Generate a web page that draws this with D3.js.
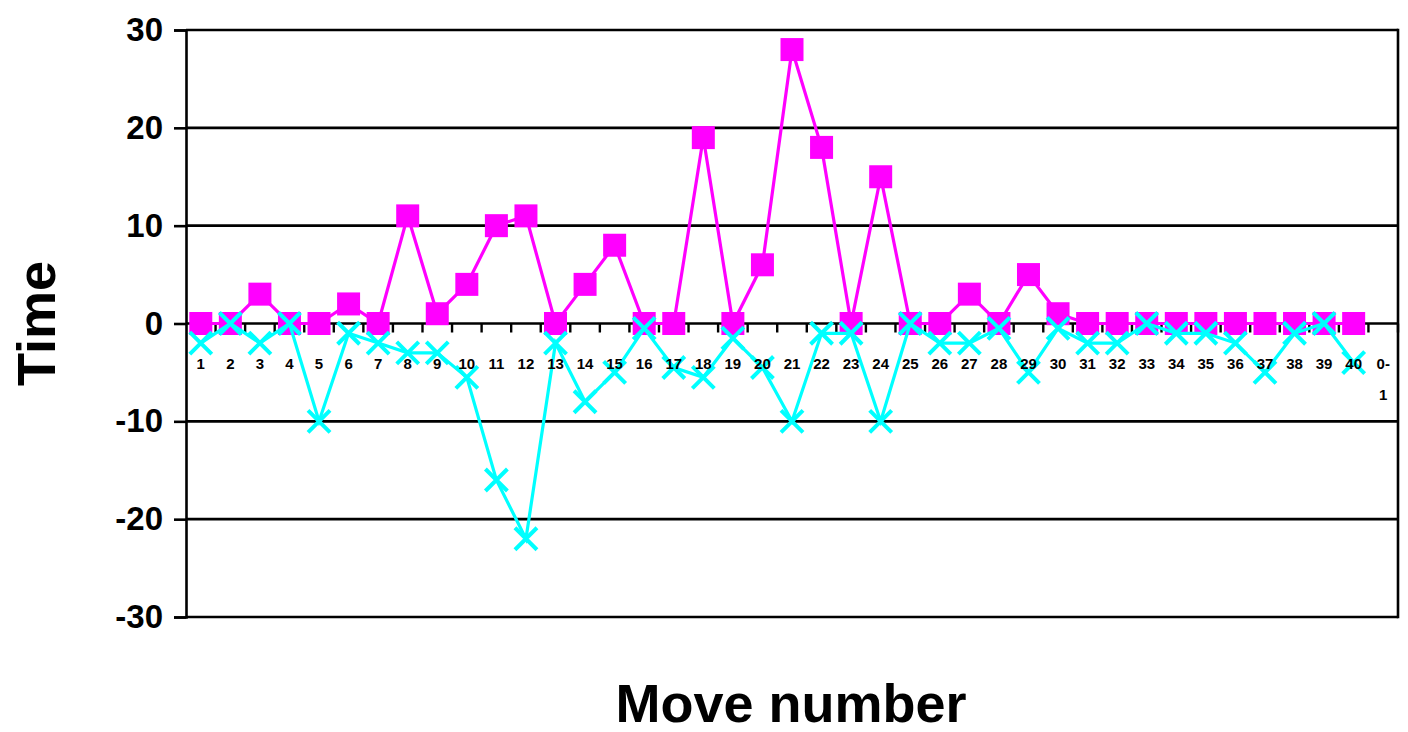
<!DOCTYPE html>
<html>
<head>
<meta charset="utf-8">
<script src="https://cdn.jsdelivr.net/npm/d3@7/dist/d3.min.js"></script>
<style>
  html, body { margin: 0; padding: 0; background: #fff; }
  svg { display: block; font-family: "Liberation Sans", Arial, sans-serif; }
</style>
</head>
<body>
<svg id="chart" width="1408" height="732"></svg>
<script>
// Move labels along the x axis
const moves = ["1","2","3","4","5","6","7","8","9","10","11","12","13","14","15","16","17","18","19","20",
  "21","22","23","24","25","26","27","28","29","30","31","32","33","34","35","36","37","38","39","40","0-1"];

// Time gained per move (square markers)
const timeGain = [0,0,3,0,0,2,0,11,1,4,10,11,0,4,8,0,0,19,0,6,
  28,18,0,15,0,0,3,0,5,1,0,0,0,0,0,0,0,0,0,0,null];

// Time lost per move (cross markers)
const timeLoss = [-2,0,-2,0,-10,-1,-2,-3,-3,-5.5,-16,-22,-2,-8,-5,-0.5,-4.5,-5.5,-1.5,-4.5,
  -10,-1,-1,-10,0,-2,-2,-0.5,-5,-0.5,-2,-2,0,-1,-1,-2,-5,-1,0,-4,null];

const yTicks = [-30,-20,-10,0,10,20,30];

const svg = d3.select("#chart");
const plotL = 186, plotR = 1398, plotT = 30, plotB = 617;

const x = d3.scaleBand().domain(moves).range([plotL, plotR]);
const y = d3.scaleLinear().domain([-30, 30]).range([plotB, plotT]);
const cx = d => x(d) + x.bandwidth() / 2;

// Horizontal gridlines
svg.append("g").selectAll("line").data(yTicks).join("line")
  .attr("x1", plotL).attr("x2", plotR)
  .attr("y1", d => y(d)).attr("y2", d => y(d))
  .attr("stroke", "#000").attr("stroke-width", 2.6);

// Right border of plot area
svg.append("line").attr("x1", plotR).attr("x2", plotR)
  .attr("y1", y(30) - 1.3).attr("y2", y(-30) + 1.3)
  .attr("stroke", "#000").attr("stroke-width", 2.6);

// Y axis
const yAxis = svg.append("g").attr("transform", `translate(${plotL},0)`)
  .call(d3.axisLeft(y).tickValues(yTicks).tickSize(12).tickPadding(11).tickFormat(d => String(d)));
yAxis.select(".domain").attr("stroke", "#000").attr("stroke-width", 2.6);
yAxis.selectAll(".tick line").attr("stroke", "#000").attr("stroke-width", 2.6);
yAxis.selectAll(".tick text").attr("font-size", 33).attr("font-weight", "bold")
  .attr("fill", "#000").attr("font-family", "'Liberation Sans', Arial, sans-serif");

// X axis along zero line, with ticks between categories
const y0 = y(0);
svg.append("g").selectAll("line").data(moves).join("line")
  .attr("x1", d => x(d) + x.bandwidth())
  .attr("x2", d => x(d) + x.bandwidth())
  .attr("y1", y0).attr("y2", y0 + 9)
  .attr("stroke", "#000").attr("stroke-width", 2.4);

// Series lines and markers
const line = d3.line().x(d => cx(d.m)).y(d => y(d.v));
const gainPts = moves.map((m, i) => ({ m, v: timeGain[i] })).filter(d => d.v != null);
const lossPts = moves.map((m, i) => ({ m, v: timeLoss[i] })).filter(d => d.v != null);

svg.append("path").datum(gainPts).attr("d", line)
  .attr("fill", "none").attr("stroke", "#ff00ff").attr("stroke-width", 3.2);
svg.append("g").selectAll("rect").data(gainPts).join("rect")
  .attr("x", d => cx(d.m) - 11.5).attr("y", d => y(d.v) - 11.5)
  .attr("width", 23).attr("height", 23).attr("fill", "#ff00ff");

svg.append("path").datum(lossPts).attr("d", line)
  .attr("fill", "none").attr("stroke", "#00ffff").attr("stroke-width", 3.2);
const s = 11;
svg.append("g").selectAll("path").data(lossPts).join("path")
  .attr("d", d => {
    const px = cx(d.m), py = y(d.v);
    return `M${px - s},${py - s}L${px + s},${py + s}M${px - s},${py + s}L${px + s},${py - s}`;
  })
  .attr("fill", "none").attr("stroke", "#00ffff").attr("stroke-width", 4);

// X tick labels (drawn above the series)
const lab = svg.append("g").attr("font-size", 15).attr("font-weight", "bold").attr("fill", "#000")
  .attr("text-anchor", "middle");
lab.selectAll("text").data(moves).join("text")
  .attr("x", d => cx(d)).attr("y", y0 + 45)
  .each(function(d) {
    const t = d3.select(this);
    if (d.includes("-")) {
      const parts = d.split("-");
      t.append("tspan").attr("x", cx(d)).text(parts[0] + "-");
      t.append("tspan").attr("x", cx(d)).attr("dy", 31).text(parts[1]);
    } else {
      t.text(d);
    }
  });

// Axis titles
svg.append("text").attr("transform", `translate(55,${(plotT + plotB) / 2}) rotate(-90)`)
  .attr("text-anchor", "middle").attr("font-size", 54).attr("font-weight", "bold").text("Time");
svg.append("text").attr("x", 791).attr("y", 722)
  .attr("text-anchor", "middle").attr("font-size", 54).attr("font-weight", "bold").text("Move number");
</script>
</body>
</html>
